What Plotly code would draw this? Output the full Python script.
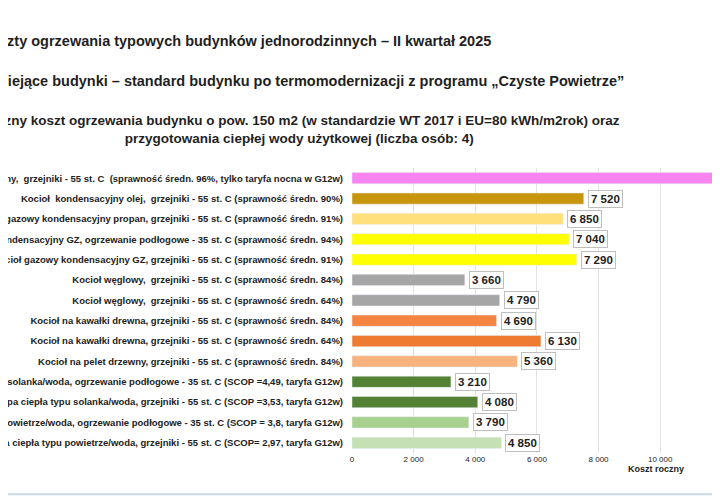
import plotly.graph_objects as go

labels = [
    "Kocioł elektryczny,  grzejniki - 55 st. C  (sprawność średn. 96%, tylko taryfa nocna w G12w)",
    "Kocioł  kondensacyjny olej,  grzejniki - 55 st. C (sprawność średn. 90%)",
    "Kocioł gazowy kondensacyjny propan, grzejniki - 55 st. C (sprawność średn. 91%)",
    "Kocioł gazowy kondensacyjny GZ, ogrzewanie podłogowe - 35 st. C (sprawność średn. 94%)",
    "Kocioł gazowy kondensacyjny GZ, grzejniki - 55 st. C (sprawność średn. 91%)",
    "Kocioł węglowy,  grzejniki - 55 st. C (sprawność średn. 84%)",
    "Kocioł węglowy,  grzejniki - 55 st. C (sprawność średn. 64%)",
    "Kocioł na kawałki drewna, grzejniki - 55 st. C (sprawność średn. 84%)",
    "Kocioł na kawałki drewna, grzejniki - 55 st. C (sprawność średn. 64%)",
    "Kocioł na pelet drzewny, grzejniki - 55 st. C (sprawność średn. 84%)",
    "Pompa ciepła typu solanka/woda, ogrzewanie podłogowe - 35 st. C (SCOP =4,49, taryfa G12w)",
    "Pompa ciepła typu solanka/woda, grzejniki - 55 st. C (SCOP =3,53, taryfa G12w)",
    "Pompa ciepła typu powietrze/woda, ogrzewanie podłogowe - 35 st. C (SCOP = 3,8, taryfa G12w)",
    "Pompa ciepła typu powietrze/woda, grzejniki - 55 st. C (SCOP= 2,97, taryfa G12w)",
]
values = [12000, 7520, 6850, 7040, 7290, 3660, 4790, 4690, 6130, 5360, 3210, 4080, 3790, 4850]
colors = ["#F884F0", "#C8960C", "#FFE07A", "#FFFF00", "#FFFF00", "#A6A6A6", "#A6A6A6",
          "#F4843F", "#EE7B30", "#F8B27E", "#548235", "#548235", "#A9D18E", "#C5E0B4"]
x_ticks = [0, 2000, 4000, 6000, 8000, 10000, 12000]
x_ticktext = ["0", "2 000", "4 000", "6 000", "8 000", "10 000", "12 000"]

fig = go.Figure(go.Bar(
    x=values, y=["<b>" + s + "</b>" for s in labels], orientation="h", marker_color=colors, width=0.55,
))

for lab, v in zip(labels, values):
    fig.add_annotation(
        x=v, y="<b>" + lab + "</b>", text="<b>" + f"{v:,}".replace(",", " ") + "</b>", showarrow=False,
        xanchor="left", xshift=4, bgcolor="white", bordercolor="#BFBFBF", borderwidth=1,
        borderpad=2, font=dict(size=11.5, color="#222", family="Liberation Sans"),
    )

fig.update_yaxes(autorange="reversed", tickfont=dict(size=9.5, color="#222", family="Liberation Sans Narrow, Liberation Sans"),
                 automargin=False, showgrid=False, ticks="", ticklabelstandoff=8)
fig.update_xaxes(range=[0, 12200], tickvals=x_ticks, ticktext=x_ticktext, showgrid=True,
                 gridcolor="#E3E3E3", tickfont=dict(size=8, color="#222", family="Liberation Sans"),
                 zeroline=False, automargin=False)

fig.add_annotation(xref="paper", yref="paper", x=0.73, y=-0.08, text="<b>Koszt roczny</b>", xanchor="left",
                   showarrow=False, font=dict(size=9, color="#222", family="Liberation Sans"))
fig.add_annotation(xref="paper", yref="paper", x=-0.945, y=1.48, xanchor="left", showarrow=False,
                   text="<b>szty ogrzewania typowych budynków jednorodzinnych – II kwartał 2025</b>",
                   font=dict(size=14.5, color="#1F1F1F", family="Liberation Sans"))
fig.add_annotation(xref="paper", yref="paper", x=-0.945, y=1.34, xanchor="left", showarrow=False,
                   text="<b>niejące budynki – standard budynku po termomodernizacji z programu „Czyste Powietrze”</b>",
                   font=dict(size=14.5, color="#1F1F1F", family="Liberation Sans"))
fig.add_annotation(xref="paper", yref="paper", x=-0.14, y=1.2, xanchor="center", showarrow=False,
                   text="<b>Roczny koszt ogrzewania budynku o pow. 150 m2 (w standardzie WT 2017 i EU=80 kWh/m2rok) oraz<br>przygotowania ciepłej wody użytkowej (liczba osób: 4)</b>",
                   font=dict(size=13.5, color="#1F1F1F", family="Liberation Sans"))
fig.add_shape(type="line", xref="paper", yref="paper", x0=-1, x1=1, y0=-0.145, y1=-0.145,
              line=dict(color="#C9D7E6", width=2))

fig.update_layout(
    width=720, height=500, margin=dict(l=344, r=0, t=160, b=55),
    plot_bgcolor="white", paper_bgcolor="white", showlegend=False, bargap=0.45,
)
fig.write_html("out.html")
